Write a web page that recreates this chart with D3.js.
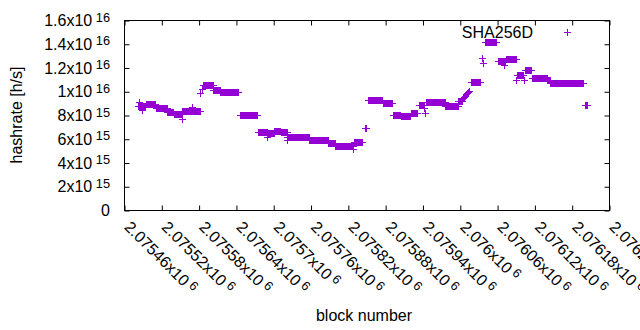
<!DOCTYPE html>
<html><head><meta charset="utf-8">
<script src="https://cdn.jsdelivr.net/npm/d3@7"></script>
<style>html,body{margin:0;padding:0;background:#fff;} svg{display:block;font-family:"Liberation Sans",Arial,sans-serif;}</style>
</head><body><svg id="c" width="640" height="330"></svg>
<script>
const seriesName = "SHA256D";
// plateau segments of the hashrate series (first block, last block, hashrate in h/s)
const segStart = [2075482,2075494,2075510,2075529,2075539,2075553,2075587,2075603,2075614,2075645,2075674,2075690,2075701,2075711,2075722,2075757,2075788,2075799,2075829,2075846,2075852,2075875,2075892,2075904,2075920,2075933,2075945,2075976,2075997,2076018,2076039,2076060,2076074,2076092,2076104,2076115,2076140,2076145,2076201];
const segEnd   = [2075493,2075509,2075528,2075538,2075552,2075581,2075602,2075613,2075643,2075673,2075689,2075700,2075710,2075721,2075756,2075787,2075798,2075827,2075842,2075849,2075874,2075891,2075903,2075919,2075931,2075942,2075975,2075996,2076002,2076032,2076058,2076072,2076090,2076101,2076114,2076139,2076144,2076197,2076204];
const segHashrate = [8.8e15,9.0e15,8.65e15,8.32e15,8.12e15,8.36e15,10.6e15,10.15e15,9.98e15,8.07e15,6.65e15,6.55e15,6.7e15,6.6e15,6.23e15,5.95e15,5.67e15,5.47e15,5.8e15,6.96e15,9.32e15,9.07e15,8.06e15,7.92e15,8.2e15,8.92e15,9.1e15,8.78e15,9.2e15,10.85e15,14.15e15,12.62e15,12.78e15,11.45e15,11.8e15,11.2e15,11.03e15,10.75e15,8.9e15];
// isolated blocks
const singleBlock = [2075484,2075488,2075553,2075569,2075582,2075584,2075689,2075722,2075828,2075941,2075943,2076003,2076005,2076006,2076008,2076010,2076011,2076013,2076014,2076035,2076036,2076071,2076090,2076103];
const singleHashrate = [9.1e15,8.5e15,7.72e15,8.7e15,9.9e15,10.25e15,6.2e15,5.92e15,5.22e15,8.6e15,8.18e15,9.35e15,9.5e15,9.6e15,9.68e15,9.8e15,9.9e15,10.0e15,10.1e15,12.8e15,12.45e15,12.25e15,11.03e15,11.03e15];

const xTickValues = [2075460,2075520,2075580,2075640,2075700,2075760,2075820,2075880,2075940,2076000,2076060,2076120,2076180,2076240];
const xTickMantissa = ["2.07546","2.07552","2.07558","2.07564","2.0757","2.07576","2.07582","2.07588","2.07594","2.076","2.07606","2.07612","2.07618","2.07624"];
const xTickExponent = ["6","6","6","6","6","6","6","6","6","6","6","6","6","6"];
const yTickValues = [0,2e15,4e15,6e15,8e15,1e16,1.2e16,1.4e16,1.6e16];
const yTickMantissa = ["0","2","4","6","8","1","1.2","1.4","1.6"];
const yTickExponent = ["","15","15","15","15","16","16","16","16"];

const color = "#9400d3";
const svg = d3.select("#c");
const L = 124.5, R = 609.5, T = 20.5, B = 210.5;
const x = d3.scaleLinear().domain([2075460, 2076240]).range([L, R]);
const y = d3.scaleLinear().domain([0, 1.6e16]).range([B, T]);

// data
const pts = [];
segStart.forEach((s, i) => { for (let b = s; b <= segEnd[i]; b++) pts.push([b, segHashrate[i]]); });
singleBlock.forEach((b, i) => pts.push([b, singleHashrate[i]]));

// axes ticks (mirrored, inward)
const tk = 5;
function styleAxis(g){ g.select(".domain").remove(); g.selectAll("line").attr("stroke","#000"); g.selectAll("text").remove(); }
svg.append("g").attr("transform",`translate(0,${B})`).call(d3.axisBottom(x).tickValues(xTickValues).tickSize(-tk)).call(styleAxis);
svg.append("g").attr("transform",`translate(0,${T})`).call(d3.axisTop(x).tickValues(xTickValues).tickSize(-tk)).call(styleAxis);
svg.append("g").attr("transform",`translate(${L},0)`).call(d3.axisLeft(y).tickValues(yTickValues).tickSize(-tk)).call(styleAxis);
svg.append("g").attr("transform",`translate(${R},0)`).call(d3.axisRight(y).tickValues(yTickValues).tickSize(-tk)).call(styleAxis);
svg.append("rect").attr("x",L).attr("y",T).attr("width",R-L).attr("height",B-T).attr("fill","none").attr("stroke","#000");

// y tick labels
yTickValues.forEach((v, i) => {
  const t = svg.append("text").attr("x", 110).attr("y", y(v) + 5.5).attr("text-anchor","end").attr("font-size",16).attr("fill","#000");
  if (yTickExponent[i]) {
    t.append("tspan").text(yTickMantissa[i] + "x10");
    t.append("tspan").attr("font-size",12.8).attr("dx",3.5).attr("dy",-4.5).text(yTickExponent[i]);
  } else t.text(yTickMantissa[i]);
});
// x tick labels
xTickValues.forEach((v, i) => {
  const t = svg.append("text").attr("transform",`translate(${x(v)+3},${224}) rotate(45)`)
    .attr("font-size",16).attr("fill","#000").attr("dy","0.35em");
  t.append("tspan").text(xTickMantissa[i] + "x10");
  t.append("tspan").attr("font-size",12.8).attr("dx",3.5).attr("dy",-4.5).text(xTickExponent[i]);
});
// axis titles
svg.append("text").attr("x",364).attr("y",321).attr("text-anchor","middle").attr("font-size",16).text("block number");
svg.append("text").attr("transform","translate(22,115) rotate(-90)").attr("text-anchor","middle").attr("font-size",16).text("hashrate [h/s]");

// points
function plus(px, py){ const cx = Math.round(px)+0.5, cy = Math.round(py)+0.5; return `M${cx-3.5},${cy}h7M${cx},${cy-3.5}v7`; }
svg.append("path").attr("d", pts.map(p => plus(x(p[0]), y(p[1]))).join("")).attr("fill","none").attr("stroke",color).attr("stroke-width",1);

// legend
svg.append("text").attr("x",533).attr("y",38).attr("text-anchor","end").attr("font-size",16).text(seriesName);
svg.append("path").attr("d", plus(567, 32)).attr("fill","none").attr("stroke",color).attr("stroke-width",1);
</script></body></html>
